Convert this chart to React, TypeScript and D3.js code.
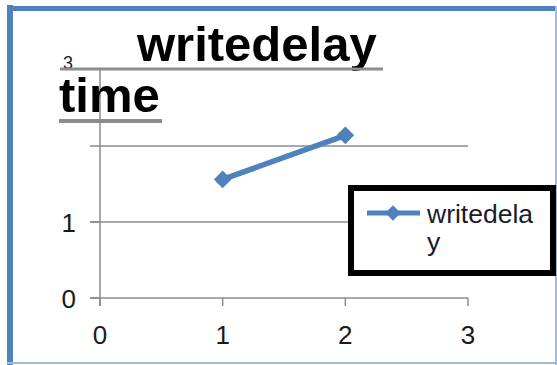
import React from "react";
import * as d3 from "d3";

// Series: writedelay
const xValues = [1, 2];
const yValues = [1.56, 2.14];
const seriesName = "writedelay";
const chartTitle = "writedelay";
const axisTitle = "time";
const xTicks = [0, 1, 2, 3];
const yGridTicks = [1, 2];
const yTickLabels = [0, 1];
const yTopLabel = 3;

const W = 557;
const H = 365;
const BLUE = "#4F81BD";
const GRID = "#8c8c8c";
const FONT = "'Liberation Sans', Arial, sans-serif";

export default function App() {
  const x = d3.scaleLinear().domain([0, 3]).range([100, 468]);
  const y = d3.scaleLinear().domain([0, 3]).range([298, 70]);
  const pts = xValues.map((v, i) => [x(v), y(yValues[i])] as [number, number]);
  const line = d3.line()(pts) || "";
  const diamond = d3.symbol().type(d3.symbolDiamond2).size(200)() || "";
  const legendDiamond = d3.symbol().type(d3.symbolDiamond2).size(150)() || "";

  return (
    <svg
      width={W}
      height={H}
      style={{ position: "absolute", left: 0, top: 0, background: "#fff" }}
    >
      {/* chart frame */}
      <line x1={10} y1={5} x2={10} y2={H} stroke={BLUE} strokeWidth={6} />
      <line x1={7} y1={8.5} x2={W} y2={8.5} stroke={BLUE} strokeWidth={5} />
      <line x1={556} y1={6} x2={556} y2={H} stroke="#9fbbe0" strokeWidth={2} />
      <line x1={7} y1={363} x2={W} y2={363} stroke="#9fbbe0" strokeWidth={2} />

      {/* gridlines */}
      {yGridTicks.map((t) => (
        <line key={t} x1={90} x2={x(3)} y1={y(t)} y2={y(t)} stroke={GRID} strokeWidth={1.5} />
      ))}
      {/* axes */}
      <line x1={x(0)} x2={x(0)} y1={y(3)} y2={y(0) + 8} stroke={GRID} strokeWidth={1.5} />
      <line x1={90} x2={x(3)} y1={y(0)} y2={y(0)} stroke={GRID} strokeWidth={1.5} />
      {xTicks.map((t) => (
        <line key={t} x1={x(t)} x2={x(t)} y1={y(0)} y2={y(0) + 8} stroke={GRID} strokeWidth={1.5} />
      ))}
      {[0, 1].map((t) => (
        <line key={t} x1={90} x2={x(0)} y1={y(t)} y2={y(t)} stroke={GRID} strokeWidth={1.5} />
      ))}

      {/* tick labels */}
      {xTicks.map((t) => (
        <text key={t} x={x(t)} y={344} textAnchor="middle" fontFamily={FONT} fontSize={26} fill="#1a1a1a">
          {t}
        </text>
      ))}
      {yTickLabels.map((t) => (
        <text key={t} x={76} y={y(t) + 10} textAnchor="end" fontFamily={FONT} fontSize={26} fill="#1a1a1a">
          {t}
        </text>
      ))}
      <text x={73} y={y(yTopLabel) - 1} textAnchor="end" fontFamily={FONT} fontSize={18} fill="#1a1a1a">
        {yTopLabel}
      </text>

      {/* series */}
      <path d={line} fill="none" stroke={BLUE} strokeWidth={5.5} />
      {pts.map((p, i) => (
        <path key={i} d={diamond} transform={`translate(${p[0]},${p[1]})`} fill={BLUE} />
      ))}

      {/* titles */}
      <text x={137} y={61} fontFamily={FONT} fontWeight="bold" fontSize={49} fill="#000">
        {chartTitle}
      </text>
      <line x1={60} x2={383} y1={69} y2={69} stroke={GRID} strokeWidth={3} />
      <text x={59} y={112} fontFamily={FONT} fontWeight="bold" fontSize={49} fill="#000">
        {axisTitle}
      </text>
      <line x1={59} x2={162} y1={121} y2={121} stroke={GRID} strokeWidth={4} />

      {/* legend */}
      <rect x={351} y={188} width={202} height={85} fill="#fff" stroke="#000" strokeWidth={6} />
      <line x1={367} x2={420} y1={213} y2={213} stroke={BLUE} strokeWidth={5} />
      <path d={legendDiamond} transform="translate(393,213)" fill={BLUE} />
      <text x={427} y={223} fontFamily={FONT} fontSize={26.5} fill="#1a1a2e">
        {seriesName.slice(0, 9)}
      </text>
      <text x={427} y={251} fontFamily={FONT} fontSize={26.5} fill="#1a1a2e">
        {seriesName.slice(9)}
      </text>
    </svg>
  );
}
